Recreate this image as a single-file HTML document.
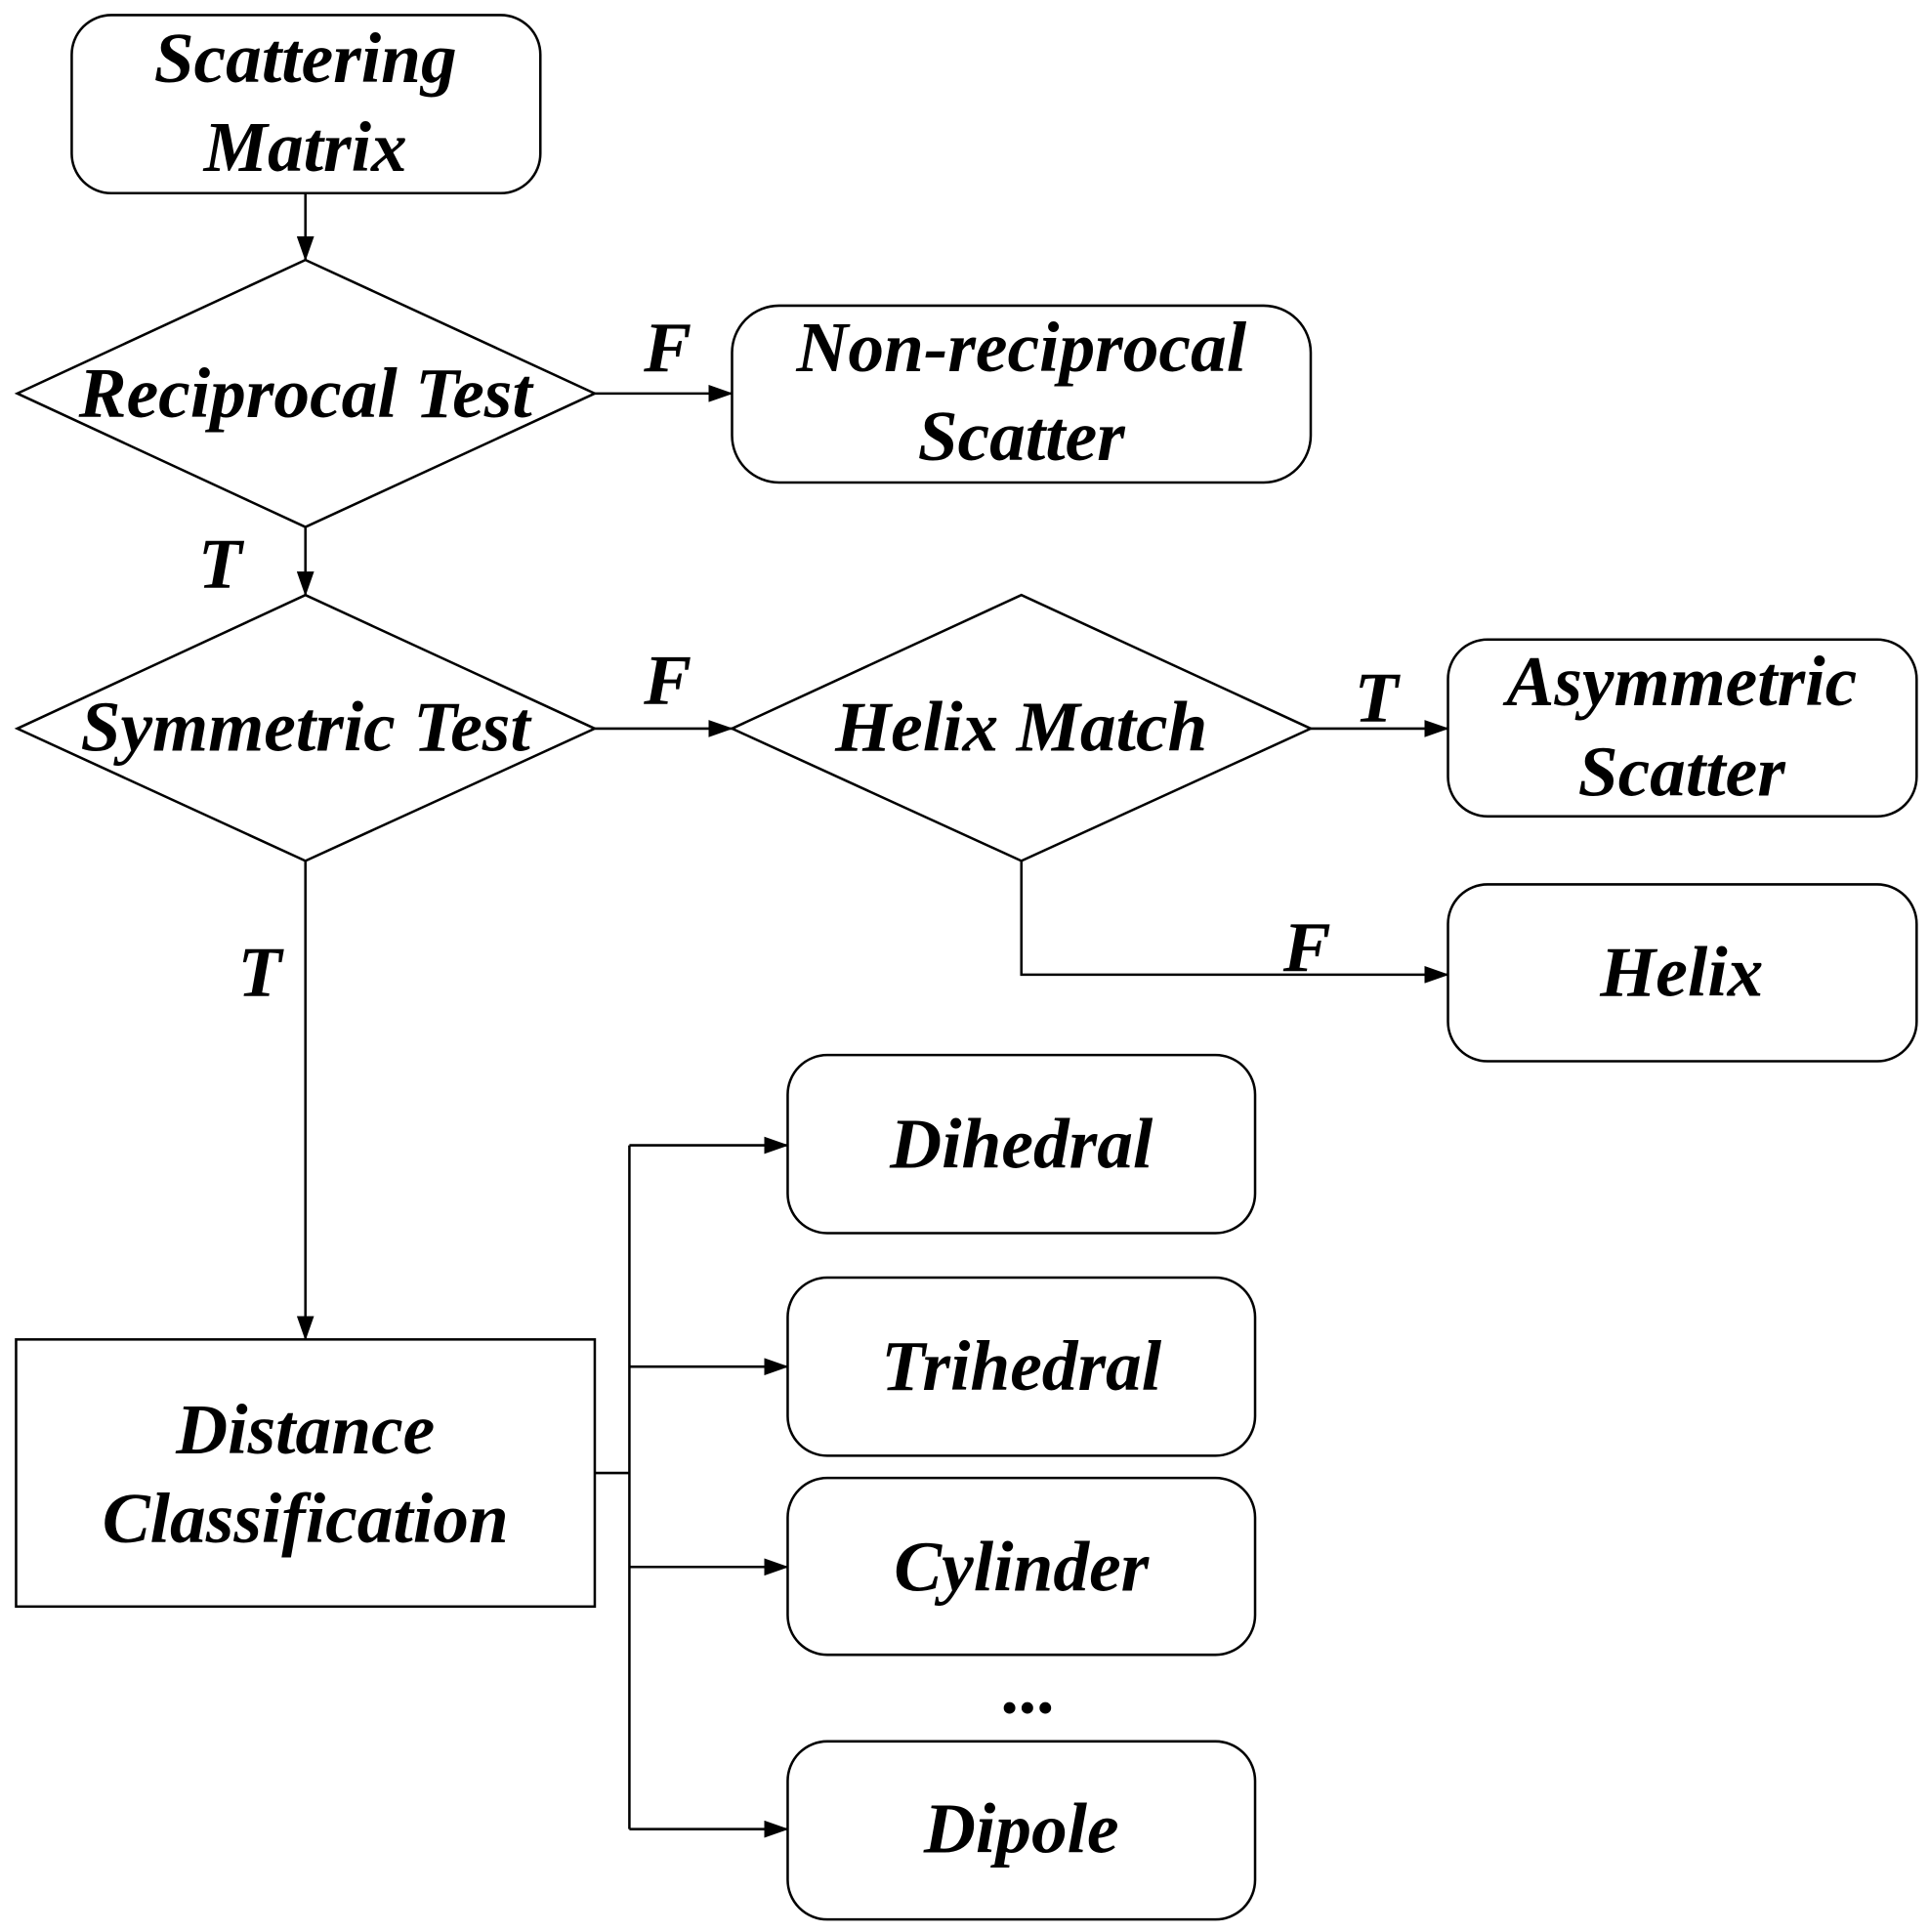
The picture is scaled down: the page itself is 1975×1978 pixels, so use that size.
<!DOCTYPE html>
<html><head><meta charset="utf-8"><style>
html,body{margin:0;padding:0;background:#fff;}
svg{display:block;}
text{font-family:"Liberation Serif",serif;font-weight:bold;font-style:italic;font-size:58px;fill:#000;text-anchor:middle;}
</style></head><body>
<svg width="1975" height="1978" viewBox="0 0 1560 1562" xmlns="http://www.w3.org/2000/svg">
<defs><marker id="a" markerWidth="20" markerHeight="14" refX="19" refY="7" orient="auto" markerUnits="userSpaceOnUse"><path d="M0,0 L20,7 L0,14 z" fill="#000"/></marker></defs>
<g fill="none" stroke="#000" stroke-width="2">
<rect x="58" y="12" width="379" height="144" rx="32"/>
<line x1="247" y1="156" x2="247" y2="210" marker-end="url(#a)"/>
<polygon points="247,210 481,318 247,426 14,318"/>
<line x1="481" y1="318" x2="592" y2="318" marker-end="url(#a)"/>
<rect x="592" y="247" width="468" height="143" rx="38"/>
<line x1="247" y1="426" x2="247" y2="481" marker-end="url(#a)"/>
<polygon points="247,481 481,589 247,696 14,589"/>
<line x1="481" y1="589" x2="592" y2="589" marker-end="url(#a)"/>
<polygon points="826,481 1060,589 826,696 592,589"/>
<line x1="1060" y1="589" x2="1171" y2="589" marker-end="url(#a)"/>
<rect x="1171" y="517" width="379" height="143" rx="32"/>
<polyline points="826,696 826,788 1171,788" marker-end="url(#a)"/>
<rect x="1171" y="715" width="379" height="143" rx="32"/>
<line x1="247" y1="696" x2="247" y2="1083" marker-end="url(#a)"/>
<rect x="13" y="1083" width="468" height="216"/>
<line x1="481" y1="1191" x2="509" y2="1191"/>
<line x1="509" y1="926" x2="509" y2="1479"/>
<line x1="509" y1="926" x2="637" y2="926" marker-end="url(#a)"/>
<line x1="509" y1="1105" x2="637" y2="1105" marker-end="url(#a)"/>
<line x1="509" y1="1267" x2="637" y2="1267" marker-end="url(#a)"/>
<line x1="509" y1="1479" x2="637" y2="1479" marker-end="url(#a)"/>
<rect x="637" y="853" width="378" height="144" rx="32"/>
<rect x="637" y="1033" width="378" height="144" rx="32"/>
<rect x="637" y="1195" width="378" height="143" rx="32"/>
<rect x="637" y="1408" width="378" height="144" rx="32"/>
</g>
<text x="247" y="66">Scattering</text>
<text x="247" y="138">Matrix</text>
<text x="247" y="337">Reciprocal Test</text>
<text x="540" y="300">F</text>
<text x="826" y="300">Non-reciprocal</text>
<text x="826" y="372">Scatter</text>
<text x="178" y="475">T</text>
<text x="247" y="607">Symmetric Test</text>
<text x="540" y="569">F</text>
<text x="826" y="607">Helix Match</text>
<text x="1113" y="583">T</text>
<text x="1360" y="570">Asymmetric</text>
<text x="1360" y="643">Scatter</text>
<text x="1057" y="785">F</text>
<text x="1360" y="805">Helix</text>
<text x="210" y="805">T</text>
<text x="247" y="1175">Distance</text>
<text x="247" y="1247">Classification</text>
<text x="826" y="944">Dihedral</text>
<text x="826" y="1124">Trihedral</text>
<text x="826" y="1286">Cylinder</text>
<text x="833" y="1385">...</text>
<text x="826" y="1498">Dipole</text>
</svg>
</body></html>
